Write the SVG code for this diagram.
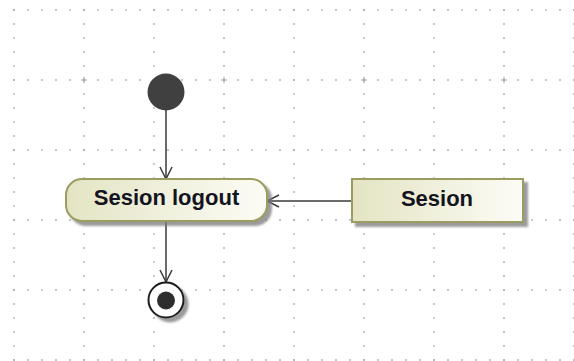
<svg xmlns="http://www.w3.org/2000/svg" width="574" height="361" viewBox="0 0 574 361">
  <style>
    .grid { stroke: #ababab; stroke-width: 1.7; stroke-dasharray: 1.7 12.3; fill: none; }
    .cross { stroke: #a6a6a6; stroke-width: 1.2; fill: none; }
    .node { stroke: #9c9c60; stroke-width: 2; }
    .label { font-family: "Liberation Sans", Arial, sans-serif; font-weight: bold; font-size: 22px; fill: #141420; text-anchor: middle; }
    .edge { stroke: #3a3a3a; stroke-width: 1.5; fill: none; }
  </style>
  <defs>
    <linearGradient id="khaki" x1="0" y1="0" x2="1" y2="0">
      <stop offset="0" stop-color="#e4e4c4"/>
      <stop offset="1" stop-color="#fcfcf6"/>
    </linearGradient>
    <filter id="shadow" x="-10%" y="-20%" width="130%" height="150%">
      <feDropShadow dx="4" dy="4" stdDeviation="1.2" flood-color="#7a7a7a" flood-opacity="0.75"/>
    </filter>
    <marker id="open" viewBox="0 0 14 14" refX="13" refY="7" markerWidth="14" markerHeight="14" markerUnits="userSpaceOnUse" orient="auto">
      <path d="M1,1 L13,7 L1,13" fill="none" stroke="#3a3a3a" stroke-width="1.5"/>
    </marker>
  </defs>
  <rect width="574" height="361" fill="#ffffff"/>

  <!-- background grid -->
  <g id="grid">
    <path class="grid" d="M13.15,10 H575 M13.15,80 H575 M13.15,150 H575 M13.15,220 H575 M13.15,290 H575 M13.15,360 H575"/>
    <path class="grid" d="M14,9.15 V362 M84,9.15 V362 M154,9.15 V362 M224,9.15 V362 M294,9.15 V362 M364,9.15 V362 M434,9.15 V362 M504,9.15 V362 M574,9.15 V362"/>
    <path class="cross" d="M81,80 H87 M84,77 V83 M221,80 H227 M224,77 V83 M361,80 H367 M364,77 V83 M501,80 H507 M504,77 V83"/>
  </g>

  <!-- connectors -->
  <g id="connectors">
    <line class="edge" x1="166" y1="110" x2="166" y2="179" marker-end="url(#open)"/>
    <line class="edge" x1="166" y1="222" x2="166" y2="282" marker-end="url(#open)"/>
    <line class="edge" x1="352" y1="201" x2="267" y2="201" marker-end="url(#open)"/>
  </g>

  <!-- initial node -->
  <g id="initial">
    <circle cx="166" cy="92" r="18.5" fill="#404040"/>
  </g>

  <!-- action: Sesion logout -->
  <g id="sesion-logout">
    <rect class="node" x="66" y="179" width="201" height="42" rx="16" ry="16" fill="url(#khaki)" filter="url(#shadow)"/>
    <text class="label" x="166.5" y="205">Sesion logout</text>
  </g>

  <!-- object node: Sesion -->
  <g id="sesion">
    <rect class="node" x="352" y="179" width="171" height="43" fill="url(#khaki)" filter="url(#shadow)"/>
    <text class="label" x="437" y="206">Sesion</text>
  </g>

  <!-- final node -->
  <g id="final">
    <circle cx="166" cy="300" r="17.5" fill="#ffffff" stroke="#1e1e1e" stroke-width="2" filter="url(#shadow)"/>
    <circle cx="166" cy="300.5" r="9" fill="#2e2e2e"/>
  </g>
</svg>
